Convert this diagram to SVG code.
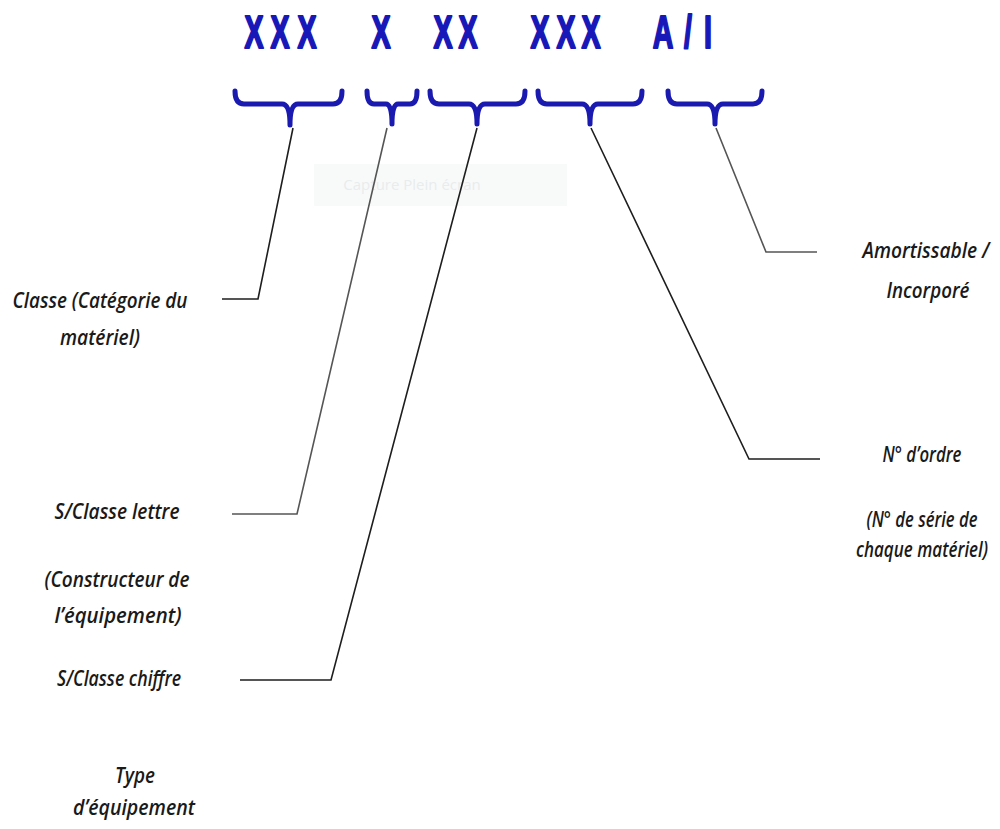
<svg xmlns="http://www.w3.org/2000/svg" width="1000" height="829" viewBox="0 0 1000 829">
  <style>
    .code { font-family: "Liberation Sans", Arial, sans-serif; font-weight: bold; font-size: 46px; fill: #1818b8; stroke: #1818b8; stroke-width: 2.2; stroke-linejoin: round; }
    .brace { fill: none; stroke: #1a1ab0; stroke-width: 5; stroke-linecap: round; stroke-linejoin: round; }
    .lbl { font-family: "Open Sans", "Liberation Sans", sans-serif; font-style: italic; font-weight: 600; font-size: 22px; fill: #1a1a1a; text-anchor: middle; }
    .lead { fill: none; stroke: #1e1e1e; stroke-width: 1.6; }
    .lead.grey { stroke: #555555; }
    .wm { font-family: "Open Sans", "Liberation Sans", sans-serif; font-size: 15px; fill: #e9ecec; text-anchor: middle; }
  </style>

  <rect width="1000" height="829" fill="#ffffff"/>

  <!-- faint screen-capture badge -->
  <g id="capture-badge">
    <rect x="314" y="164" width="253" height="42" fill="#f8fafa"/>
    <text class="wm" x="412" y="190">Capture Plein écran</text>
  </g>

  <!-- code segments, condensed horizontally -->
  <g id="code" transform="scale(0.62 1)">
    <text class="code" text-anchor="middle" y="48" x="409.7 451.6 495.2">XXX</text>
    <text class="code" text-anchor="middle" y="48" x="614.5">X</text>
    <text class="code" text-anchor="middle" y="48" x="714.5 754.8">XX</text>
    <text class="code" text-anchor="middle" y="48" x="871 912.9 953.2">XXX</text>
    <text class="code" text-anchor="middle" y="48" x="1069.4 1109.7 1141.9">A/I</text>
  </g>

  <!-- braces under each segment -->
  <g id="braces">
    <path class="brace" d="M235,91 Q235,104 244,104 H282 Q290,104 290,125 Q290,104 298,104 H333 Q342,104 342,91"/>
    <path class="brace" d="M367,91 Q367,104 374,104 H386 Q392,104 392,124 Q392,104 398,104 H410 Q417,104 417,91"/>
    <path class="brace" d="M430,91 Q430,104 439,104 H469 Q477,104 477,124 Q477,104 485,104 H516 Q525,104 525,91"/>
    <path class="brace" d="M538,91 Q538,104 547,104 H582 Q590,104 590,124 Q590,104 598,104 H633 Q642,104 642,91"/>
    <path class="brace" d="M668,91 Q668,104 677,104 H707 Q715,104 715,124 Q715,104 723,104 H753 Q762,104 762,91"/>
  </g>

  <!-- leader lines -->
  <g id="connectors">
    <polyline class="lead" points="293,128 258,299 222,299"/>
    <polyline class="lead grey" points="387,128 297,514 232,514"/>
    <polyline class="lead" points="477,128 331,680 240,680"/>
    <polyline class="lead" points="591,128 749,459 820,459"/>
    <polyline class="lead grey" points="716,128 766,252 817,252"/>
  </g>

  <g id="classe">
    <text class="lbl" x="100" y="308" textLength="175" lengthAdjust="spacingAndGlyphs">Classe (Catégorie du</text>
    <text class="lbl" x="100" y="345" textLength="80" lengthAdjust="spacingAndGlyphs">matériel)</text>
  </g>

  <g id="sous-classe-lettre">
    <text class="lbl" x="117" y="519" textLength="125" lengthAdjust="spacingAndGlyphs">S/Classe lettre</text>
    <text class="lbl" x="117" y="587" textLength="145" lengthAdjust="spacingAndGlyphs">(Constructeur de</text>
    <text class="lbl" x="118" y="623" textLength="127" lengthAdjust="spacingAndGlyphs">l’équipement)</text>
  </g>

  <g id="sous-classe-chiffre">
    <text class="lbl" x="119" y="686" textLength="124" lengthAdjust="spacingAndGlyphs">S/Classe chiffre</text>
    <text class="lbl" x="135" y="783" textLength="40" lengthAdjust="spacingAndGlyphs">Type</text>
    <text class="lbl" x="134" y="815" textLength="122" lengthAdjust="spacingAndGlyphs">d’équipement</text>
  </g>

  <g id="numero-ordre">
    <text class="lbl" x="922" y="462" textLength="79" lengthAdjust="spacingAndGlyphs">N° d’ordre</text>
    <text class="lbl" x="922" y="527" textLength="111" lengthAdjust="spacingAndGlyphs">(N° de série de</text>
    <text class="lbl" x="922" y="557" textLength="132" lengthAdjust="spacingAndGlyphs">chaque matériel)</text>
  </g>

  <g id="amortissable">
    <text class="lbl" x="926" y="258" textLength="127" lengthAdjust="spacingAndGlyphs">Amortissable /</text>
    <text class="lbl" x="928" y="298" textLength="83" lengthAdjust="spacingAndGlyphs">Incorporé</text>
  </g>
</svg>
